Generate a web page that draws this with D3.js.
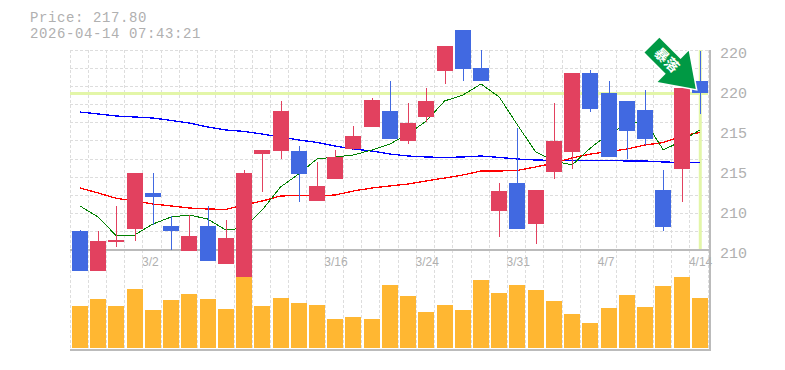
<!DOCTYPE html>
<html>
<head>
<meta charset="utf-8">
<script src="https://cdn.jsdelivr.net/npm/d3@7"></script>
<style>
    html, body { margin: 0; padding: 0; background: #fff; }
    svg { display: block; }
    text { font-family: "Liberation Mono", monospace; fill: #b0b0b0; }
</style>
</head>
<body>
<div id="chart"></div>
<script>
const priceNow = 217.80;
const stamp = "2026-04-14 07:43:21";

const dates = ["2/24", "2/25", "2/26", "2/27", "3/2", "3/3", "3/4", "3/5", "3/6", "3/9", "3/10", "3/11", "3/12", "3/13",
    "3/16", "3/17", "3/18", "3/19", "3/23", "3/24", "3/25", "3/26", "3/27", "3/30", "3/31", "4/1", "4/2", "4/3",
    "4/6", "4/7", "4/8", "4/9", "4/10", "4/13", "4/14"];
const dateLabels = ["3/2", "3/16", "3/24", "3/31", "4/7", "4/14"];
const priceTicks = [219.8, 217.8, 215.8, 213.8, 211.8, 209.8];

const opens = [210.9, 208.9, 210.35, 211.0, 212.8, 211.15, 209.9, 211.15, 209.25, 208.6, 214.75, 214.9, 214.9, 212.4,
    213.5, 215.0, 216.1, 216.9, 215.4, 216.6, 218.9, 220.95, 219.05, 211.9, 213.3, 211.25, 213.85, 214.85,
    218.8, 217.8, 217.4, 216.95, 212.95, 214.0, 218.4];
const closes = [208.9, 210.4, 210.45, 213.8, 212.6, 210.9, 210.65, 209.4, 210.55, 213.8, 214.95, 216.9, 213.75, 213.15,
    214.6, 215.65, 217.45, 215.5, 216.3, 217.4, 220.15, 219.0, 218.4, 212.9, 211.0, 212.95, 215.4, 218.8,
    217.0, 214.6, 215.9, 215.5, 211.1, 218.05, 217.8];
const highs = [210.95, 210.9, 212.15, 213.8, 213.8, 211.65, 211.7, 212.15, 211.45, 213.95, 214.95, 217.4, 215.15, 214.35,
    214.95, 216.15, 217.55, 218.4, 217.3, 218.05, 220.15, 220.95, 219.95, 213.3, 216.05, 212.95, 217.3, 218.8,
    218.95, 218.4, 217.4, 217.95, 213.95, 218.05, 219.9];
const lows = [208.9, 208.9, 210.1, 210.4, 211.2, 209.95, 209.9, 209.4, 209.25, 208.6, 212.85, 214.5, 212.35, 212.4,
    213.5, 214.95, 216.1, 215.5, 215.25, 216.35, 218.25, 218.4, 218.4, 210.6, 211.0, 210.25, 213.5, 214.0,
    216.85, 214.6, 214.5, 215.2, 210.9, 212.35, 216.75];
const volumes = [42, 49, 42, 59, 38, 48, 54, 49, 39, 71, 42, 50, 45, 43, 29, 31, 29, 63,
    52, 36, 43, 38, 68, 55, 63, 58, 47, 34, 25, 40, 53, 41, 62, 71, 50];

const maShort = [212.15, 211.6, 210.65, 210.7, 211.25, 211.6, 211.7, 211.5, 210.95, 211.05, 211.95, 213.1, 213.75, 214.5,
    214.6, 214.7, 214.95, 215.25, 215.75, 216.4, 217.4, 217.7, 218.25, 217.6, 216.2, 214.85, 214.4, 214.2,
    215.05, 215.75, 216.25, 216.4, 214.95, 215.4, 215.95];
const maMid = [213.05, 212.8, 212.53, 212.4, 212.25, 212.15, 212.05, 212.0, 211.98, 212.2, 212.4, 212.65, 212.68, 212.65,
    212.7, 212.9, 213.05, 213.15, 213.25, 213.4, 213.55, 213.7, 213.9, 213.9, 213.93, 214.1, 214.3, 214.55,
    214.75, 214.87, 215.0, 215.2, 215.32, 215.65, 215.82];
const maLong = [216.85, 216.75, 216.65, 216.6, 216.55, 216.43, 216.3, 216.1, 215.95, 215.88, 215.75, 215.6, 215.45, 215.33,
    215.15, 215.0, 214.9, 214.75, 214.65, 214.6, 214.58, 214.6, 214.65, 214.58, 214.5, 214.45, 214.43, 214.43,
    214.43, 214.43, 214.4, 214.4, 214.35, 214.33, 214.34];

const upColor = "#e2415f", downColor = "#4169e1", volColor = "#ffb732";
const gridColor = "#ddd", axisColor = "#bbb", markColor = "#e3f6a8";

const svg = d3.select("#chart").append("svg")
    .attr("width", 785)
    .attr("height", 370);

const x = d3.scaleBand().domain(dates).range([71, 709]);
const center = d => x(d) + 9;

// price panel runs 50..250, candles are allowed to spill outside it
const y = d3.scaleLinear().domain([209.95, 219.95]).range([250, 50]);
const yVol = d3.scaleLinear().domain([0, 71]).range([348, 277]);

// grid
const grid = svg.append("g")
    .attr("stroke", gridColor)
    .attr("stroke-dasharray", "3,2")
    .attr("shape-rendering", "crispEdges");

d3.range(11).forEach(i => {
    const gy = y(219.95 - i * 10 / 11);
    grid.append("line").attr("x1", 70).attr("x2", 708).attr("y1", gy).attr("y2", gy);
});
dates.concat([null]).forEach(d => {
    const gx = d ? x(d) - 1 : 708;
    grid.append("line").attr("x1", gx).attr("x2", gx).attr("y1", 50).attr("y2", 350);
});

// frame
const frame = svg.append("g").attr("stroke", axisColor).attr("shape-rendering", "crispEdges");
frame.append("line").attr("x1", 70).attr("x2", 710).attr("y1", y(209.95)).attr("y2", y(209.95)).attr("stroke-width", 1.5);
frame.append("line").attr("x1", 70).attr("x2", 711).attr("y1", 350).attr("y2", 350).attr("stroke-width", 2);
frame.append("line").attr("x1", 710).attr("x2", 710).attr("y1", 50).attr("y2", 350).attr("stroke-width", 2);

// current price cross
const lastDate = dates[dates.length - 1];
svg.append("line")
    .attr("x1", 70).attr("x2", 708)
    .attr("y1", y(priceNow) + 0.5).attr("y2", y(priceNow) + 0.5)
    .attr("stroke", markColor).attr("stroke-width", 3);
svg.append("line")
    .attr("x1", center(lastDate) + 0.5).attr("x2", center(lastDate) + 0.5)
    .attr("y1", 50).attr("y2", 249)
    .attr("stroke", markColor).attr("stroke-width", 3);

// moving averages
const maLine = d3.line().x((d, i) => center(dates[i])).y(d => y(d));
[[maLong, "#0000ff", 1.3], [maMid, "#ff0000", 1.3], [maShort, "#008000", 1]].forEach(([values, stroke, w]) => {
    svg.append("path")
        .attr("d", maLine(values))
        .attr("fill", "none")
        .attr("stroke", stroke)
        .attr("stroke-width", w)
        .attr("shape-rendering", "crispEdges");
});

// candles
const candles = svg.append("g").selectAll("g")
    .data(dates)
    .join("g")
    .attr("fill", (d, i) => closes[i] >= opens[i] ? upColor : downColor)
    .attr("shape-rendering", "crispEdges");

candles.append("rect")
    .attr("x", d => center(d))
    .attr("width", 1)
    .attr("y", (d, i) => y(highs[i]))
    .attr("height", (d, i) => y(lows[i]) - y(highs[i]));

candles.append("rect")
    .attr("x", d => x(d) + 1)
    .attr("width", 16)
    .attr("y", (d, i) => y(Math.max(opens[i], closes[i])))
    .attr("height", (d, i) => Math.abs(y(opens[i]) - y(closes[i])));

// volume goes on top of the candles
svg.append("g").selectAll("rect")
    .data(dates)
    .join("rect")
    .attr("x", d => x(d) + 1)
    .attr("width", 16)
    .attr("y", (d, i) => yVol(volumes[i]))
    .attr("height", (d, i) => yVol(0) - yVol(volumes[i]))
    .attr("fill", volColor)
    .attr("shape-rendering", "crispEdges");

// axes
const yAxis = svg.append("g")
    .attr("transform", "translate(720,0)")
    .call(d3.axisRight(y).tickValues(priceTicks).tickSize(0).tickPadding(0)
        .tickFormat(d => Math.round(d / 5) * 5));
yAxis.select(".domain").remove();
yAxis.selectAll("text")
    .attr("dy", "0.3em")
    .style("font-size", "15px");

const xAxis = svg.append("g")
    .attr("transform", "translate(0,250)")
    .call(d3.axisBottom(x).tickValues(dateLabels).tickSize(0).tickPadding(0));
xAxis.select(".domain").remove();
xAxis.selectAll("text")
    .attr("text-anchor", "start")
    .attr("x", -11)
    .attr("y", 16)
    .attr("dy", 0)
    .style("font-family", "'Liberation Sans', sans-serif")
    .style("font-size", "12px");

// header, 14px plus spacing keeps the 9px pitch without the line boxes touching
svg.append("text").attr("x", 30).attr("y", 22)
    .style("font-size", "14px").style("letter-spacing", "0.6px")
    .text("Price: " + priceNow.toFixed(2));
svg.append("text").attr("x", 30).attr("y", 38)
    .style("font-size", "14px").style("letter-spacing", "0.6px")
    .text(stamp);

// signal arrow, tip sits just above the last close
const arrow = svg.append("g")
    .attr("transform", `translate(${x(lastDate) + 5},${y(priceNow) - 4}) rotate(45)`);
arrow.append("path")
    .attr("d", "M-62,-10.5L-32,-10.5L-32,-22L0,0L-32,22L-32,10.5L-62,10.5Z")
    .attr("fill", "#009944")
    .attr("stroke", "#fff")
    .attr("stroke-width", 3)
    .attr("paint-order", "stroke");
arrow.append("text")
    .attr("x", -41)
    .attr("y", 5)
    .attr("text-anchor", "middle")
    .style("font-family", "'Noto Sans CJK JP', sans-serif")
    .style("font-weight", "700")
    .style("font-size", "14px")
    .style("fill", "#fff")
    .text("暴落");
</script>
</body>
</html>
